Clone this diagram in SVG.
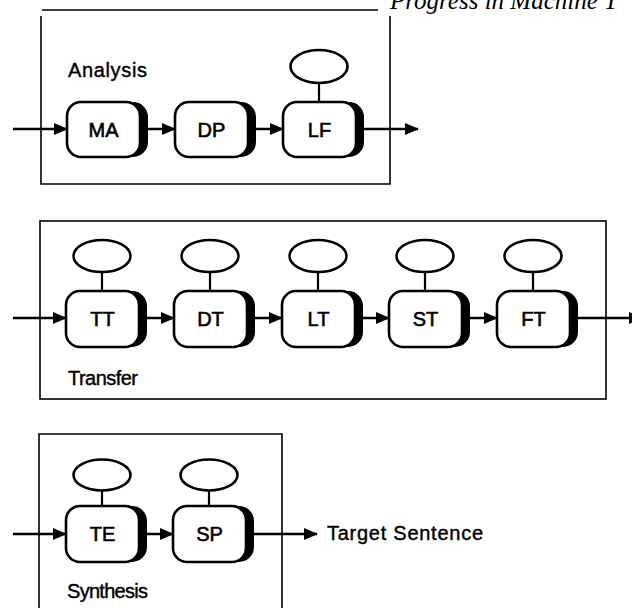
<svg xmlns="http://www.w3.org/2000/svg" width="632" height="608" viewBox="0 0 632 608">
<defs>
<style>
.frame{fill:none;stroke:#000;stroke-width:1.6}
.box{fill:#fff;stroke:#000;stroke-width:2.6}
.shadow{fill:#000}
.ell{fill:#fff;stroke:#000;stroke-width:2.6}
.stem{stroke:#000;stroke-width:2.2}
.lbl{font-family:"Liberation Sans",Arial,sans-serif;font-size:20px;fill:#000;stroke:#000;stroke-width:0.6;text-anchor:middle}
.title{font-family:"Liberation Sans",Arial,sans-serif;font-size:20px;fill:#000;stroke:#000;stroke-width:0.4}
.hdr{font-family:"Liberation Serif","Times New Roman",serif;font-style:italic;font-size:25px;fill:#000}
.conn{stroke:#000;stroke-width:2.5;fill:none;marker-end:url(#arr)}
</style>
<marker id="arr" markerUnits="userSpaceOnUse" markerWidth="14" markerHeight="12" refX="13" refY="6" orient="auto">
<path d="M0,0 L14,6 L0,12 z" fill="#000"/>
</marker>
</defs>
<rect width="632" height="608" fill="#fff"/>

<!-- header -->
<g id="header">
<line x1="42" y1="10" x2="378" y2="10" stroke="#000" stroke-width="1.5"/>
<text class="hdr" x="390" y="9">Progress in Machine T</text>
</g>

<!-- stage frames -->
<g id="analysis">
<path class="frame" d="M41,16 V184 H390 V16"/>
<text class="title" x="68" y="77" textLength="79">Analysis</text>
</g>
<g id="transfer">
<rect class="frame" x="40" y="221" width="566" height="178"/>
<text class="title" x="68" y="385" textLength="70">Transfer</text>
</g>
<g id="synthesis">
<path class="frame" d="M39,612 V434 H282 V612"/>
<text class="title" x="67" y="598" textLength="81">Synthesis</text>
</g>

<!-- nodes -->
<g id="MA">
<rect class="shadow" x="75" y="102" width="73" height="55" rx="15"/>
<rect class="box" x="67" y="102" width="73" height="55" rx="14"/>
<text class="lbl" x="103.5" y="137">MA</text>
</g>
<g id="DP">
<rect class="shadow" x="183" y="102" width="73" height="55" rx="15"/>
<rect class="box" x="175" y="102" width="73" height="55" rx="14"/>
<text class="lbl" x="211.5" y="137">DP</text>
</g>
<g id="LF">
<line class="stem" x1="319" y1="83" x2="319" y2="102"/>
<ellipse class="ell" cx="319" cy="66.5" rx="28.5" ry="16.5"/>
<rect class="shadow" x="291" y="102" width="73" height="55" rx="15"/>
<rect class="box" x="283" y="102" width="73" height="55" rx="14"/>
<text class="lbl" x="319.5" y="137">LF</text>
</g>

<g id="TT">
<line class="stem" x1="102" y1="272" x2="102" y2="291"/>
<ellipse class="ell" cx="102" cy="256" rx="28.5" ry="16"/>
<rect class="shadow" x="74" y="291" width="73" height="56" rx="15"/>
<rect class="box" x="66" y="291" width="73" height="56" rx="14"/>
<text class="lbl" x="102.5" y="326">TT</text>
</g>
<g id="DT">
<line class="stem" x1="210" y1="272" x2="210" y2="291"/>
<ellipse class="ell" cx="210" cy="256" rx="28.5" ry="16"/>
<rect class="shadow" x="182" y="291" width="73" height="56" rx="15"/>
<rect class="box" x="174" y="291" width="73" height="56" rx="14"/>
<text class="lbl" x="210.5" y="326">DT</text>
</g>
<g id="LT">
<line class="stem" x1="318" y1="272" x2="318" y2="291"/>
<ellipse class="ell" cx="318" cy="256" rx="28.5" ry="16"/>
<rect class="shadow" x="290" y="291" width="73" height="56" rx="15"/>
<rect class="box" x="282" y="291" width="73" height="56" rx="14"/>
<text class="lbl" x="318.5" y="326">LT</text>
</g>
<g id="ST">
<line class="stem" x1="425" y1="272" x2="425" y2="291"/>
<ellipse class="ell" cx="425" cy="256" rx="28.5" ry="16"/>
<rect class="shadow" x="397" y="291" width="73" height="56" rx="15"/>
<rect class="box" x="389" y="291" width="73" height="56" rx="14"/>
<text class="lbl" x="425.5" y="326">ST</text>
</g>
<g id="FT">
<line class="stem" x1="533" y1="272" x2="533" y2="291"/>
<ellipse class="ell" cx="533" cy="256" rx="28.5" ry="16"/>
<rect class="shadow" x="505" y="291" width="73" height="56" rx="15"/>
<rect class="box" x="497" y="291" width="73" height="56" rx="14"/>
<text class="lbl" x="533.5" y="326">FT</text>
</g>

<g id="TE">
<line class="stem" x1="102" y1="490" x2="102" y2="506"/>
<ellipse class="ell" cx="102" cy="475" rx="28.5" ry="15.5"/>
<rect class="shadow" x="74" y="506" width="73" height="56" rx="15"/>
<rect class="box" x="66" y="506" width="73" height="56" rx="14"/>
<text class="lbl" x="102.5" y="541">TE</text>
</g>
<g id="SP">
<line class="stem" x1="209" y1="490" x2="209" y2="506"/>
<ellipse class="ell" cx="209" cy="475" rx="28.5" ry="15.5"/>
<rect class="shadow" x="181" y="506" width="73" height="56" rx="15"/>
<rect class="box" x="173" y="506" width="73" height="56" rx="14"/>
<text class="lbl" x="209.5" y="541">SP</text>
</g>

<g id="target">
<text class="title" x="327" y="540" textLength="156">Target Sentence</text>
</g>

<!-- connectors -->
<g id="connectors">
<line class="conn" x1="13" y1="129" x2="67" y2="129"/>
<line class="conn" x1="148" y1="129" x2="175" y2="129"/>
<line class="conn" x1="256" y1="129" x2="283" y2="129"/>
<line class="conn" x1="364" y1="129" x2="418" y2="129"/>

<line class="conn" x1="13" y1="318" x2="66" y2="318"/>
<line class="conn" x1="147" y1="318" x2="174" y2="318"/>
<line class="conn" x1="255" y1="318" x2="282" y2="318"/>
<line class="conn" x1="363" y1="318" x2="389" y2="318"/>
<line class="conn" x1="470" y1="318" x2="497" y2="318"/>
<line class="conn" x1="578" y1="318" x2="642" y2="318"/>

<line class="conn" x1="13" y1="534" x2="66" y2="534"/>
<line class="conn" x1="147" y1="534" x2="173" y2="534"/>
<line class="conn" x1="254" y1="534" x2="317" y2="534"/>
</g>
</svg>
